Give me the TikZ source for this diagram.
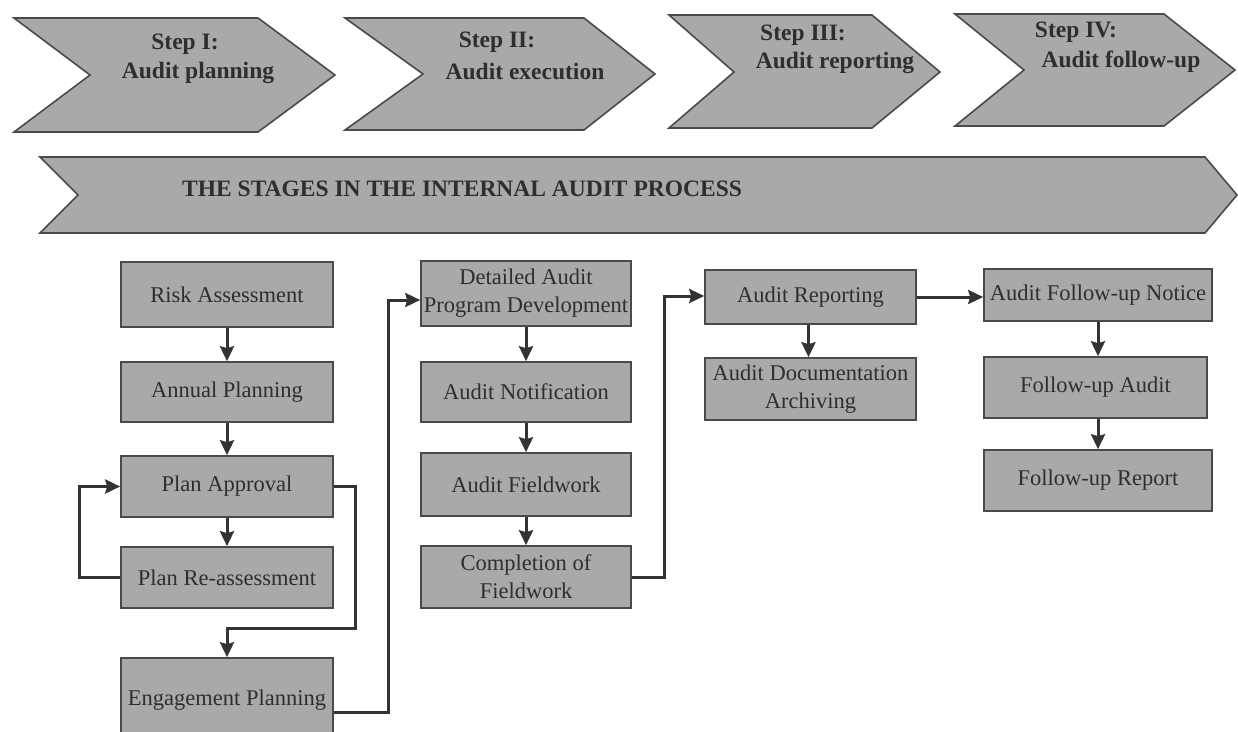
\documentclass[tikz,border=0pt]{standalone}
\usepackage{fontspec}
\setmainfont{Liberation Serif}
\usetikzlibrary{arrows.meta}
\definecolor{boxfill}{HTML}{A9A9A9}
\definecolor{edgegray}{HTML}{4A4A4A}
\definecolor{txt}{HTML}{2E2E2E}
\tikzset{
  chev/.style={fill=boxfill, draw=edgegray, line width=1.6pt},
  chevtext/.style={text=txt, font=\fontsize{23.5}{26}\selectfont\bfseries, inner sep=0pt},
  stagebox/.style={rectangle, fill=boxfill, draw=edgegray, line width=1.6pt, text=txt,
    font=\fontsize{22.5}{28}\selectfont, align=center, inner sep=1pt},
  conn/.style={draw=black!80, line width=3pt, -{Stealth[length=15pt,width=14pt,inset=2pt]}},
}
\begin{document}
\begin{tikzpicture}[x=1pt,y=-1pt]
\useasboundingbox (0,0) rectangle (1238,731);
% top chevrons
\draw[chev] (14,18) -- (258,18) -- (335,75) -- (258,132) -- (14,132) -- (90,75) -- cycle;
\draw[chev] (345,18) -- (584,18) -- (655,74) -- (584,130) -- (345,130) -- (423,74) -- cycle;
\draw[chev] (669,15) -- (872,15) -- (940,72) -- (872,128) -- (669,128) -- (734,72) -- cycle;
\draw[chev] (955,14) -- (1164,14) -- (1235,70) -- (1164,126) -- (955,126) -- (1024,70) -- cycle;
\node[chevtext] (s1a) at (185,44) {Step I:};
\node[chevtext] (s1b) at (198,73) {Audit planning};
\node[chevtext] (s2a) at (497,42) {Step II:};
\node[chevtext] (s2b) at (525,71) {Audit execution};
\node[chevtext] (s3a) at (803,35) {Step III:};
\node[chevtext] (s3b) at (835,63) {Audit reporting};
\node[chevtext] (s4a) at (1076,32) {Step IV:};
\node[chevtext] (s4b) at (1121,62) {Audit follow-up};
% big arrow
\draw[chev] (40,157) -- (1205,157) -- (1237,195) -- (1205,233) -- (40,233) -- (78,195) -- cycle;
\node[chevtext, anchor=west] (title) at (182,189) {THE STAGES IN THE INTERNAL AUDIT PROCESS};
% column 1
\node[stagebox, minimum width=212pt, minimum height=65pt] (risk) at (227,294.5) {Risk Assessment};
\node[stagebox, minimum width=212pt, minimum height=60pt] (annual) at (227,392) {Annual Planning};
\node[stagebox, minimum width=212pt, minimum height=61pt] (approv) at (227,486.5) {Plan Approval};
\node[stagebox, minimum width=212pt, minimum height=61pt] (reass) at (227,577.5) {Plan Re-assessment};
\node[stagebox, minimum width=212pt, minimum height=84pt] (engage) at (227,700) {Engagement Planning};
% column 2
\node[stagebox, minimum width=210pt, minimum height=65pt] (detail) at (526,293.5) {Detailed Audit\\Program Development};
\node[stagebox, minimum width=210pt, minimum height=60pt] (notif) at (526,392) {Audit Notification};
\node[stagebox, minimum width=210pt, minimum height=63pt] (field) at (526,484.5) {Audit Fieldwork};
\node[stagebox, minimum width=210pt, minimum height=62pt] (compl) at (526,577) {Completion of\\Fieldwork};
% column 3
\node[stagebox, minimum width=211pt, minimum height=54pt] (report) at (810.5,297) {Audit Reporting};
\node[stagebox, minimum width=211pt, minimum height=62pt] (archiv) at (810.5,389) {Audit Documentation\\Archiving};
% column 4
\node[stagebox, minimum width=228pt, minimum height=52pt] (notice) at (1098,295) {Audit Follow-up Notice};
\node[stagebox, minimum width=223pt, minimum height=61pt] (fuaudit) at (1095.5,387.5) {Follow-up Audit};
\node[stagebox, minimum width=228pt, minimum height=61pt] (fureport) at (1098,480.5) {Follow-up Report};
% connectors
\draw[conn] (risk) -- (annual);
\draw[conn] (annual) -- (approv);
\draw[conn] (approv) -- (reass);
\draw[conn] (reass.west) -- ++(-41,0) |- (approv.west);
\coordinate (c1) at (355,628);
\draw[conn] (approv.east) -| (c1) -- (227,628) -- (engage.north);
\coordinate (c2) at (388,300);
\draw[conn] ([yshift=-12pt]engage.east) -| (c2) -- (detail.west |- c2);
\draw[conn] (detail) -- (notif);
\draw[conn] (notif) -- (field);
\draw[conn] (field) -- (compl);
\coordinate (c3) at (664,296);
\draw[conn] (compl.east) -| (c3) -- (report.west |- c3);
\draw[conn] (report.east) -- (notice.west |- report.east);
\draw[conn] ([xshift=-2pt]report.south) -- ([xshift=-2pt]archiv.north);
\draw[conn] (notice) -- (notice |- fuaudit.north);
\draw[conn] (fuaudit.south -| notice) -- (fureport);
\end{tikzpicture}
\end{document}
